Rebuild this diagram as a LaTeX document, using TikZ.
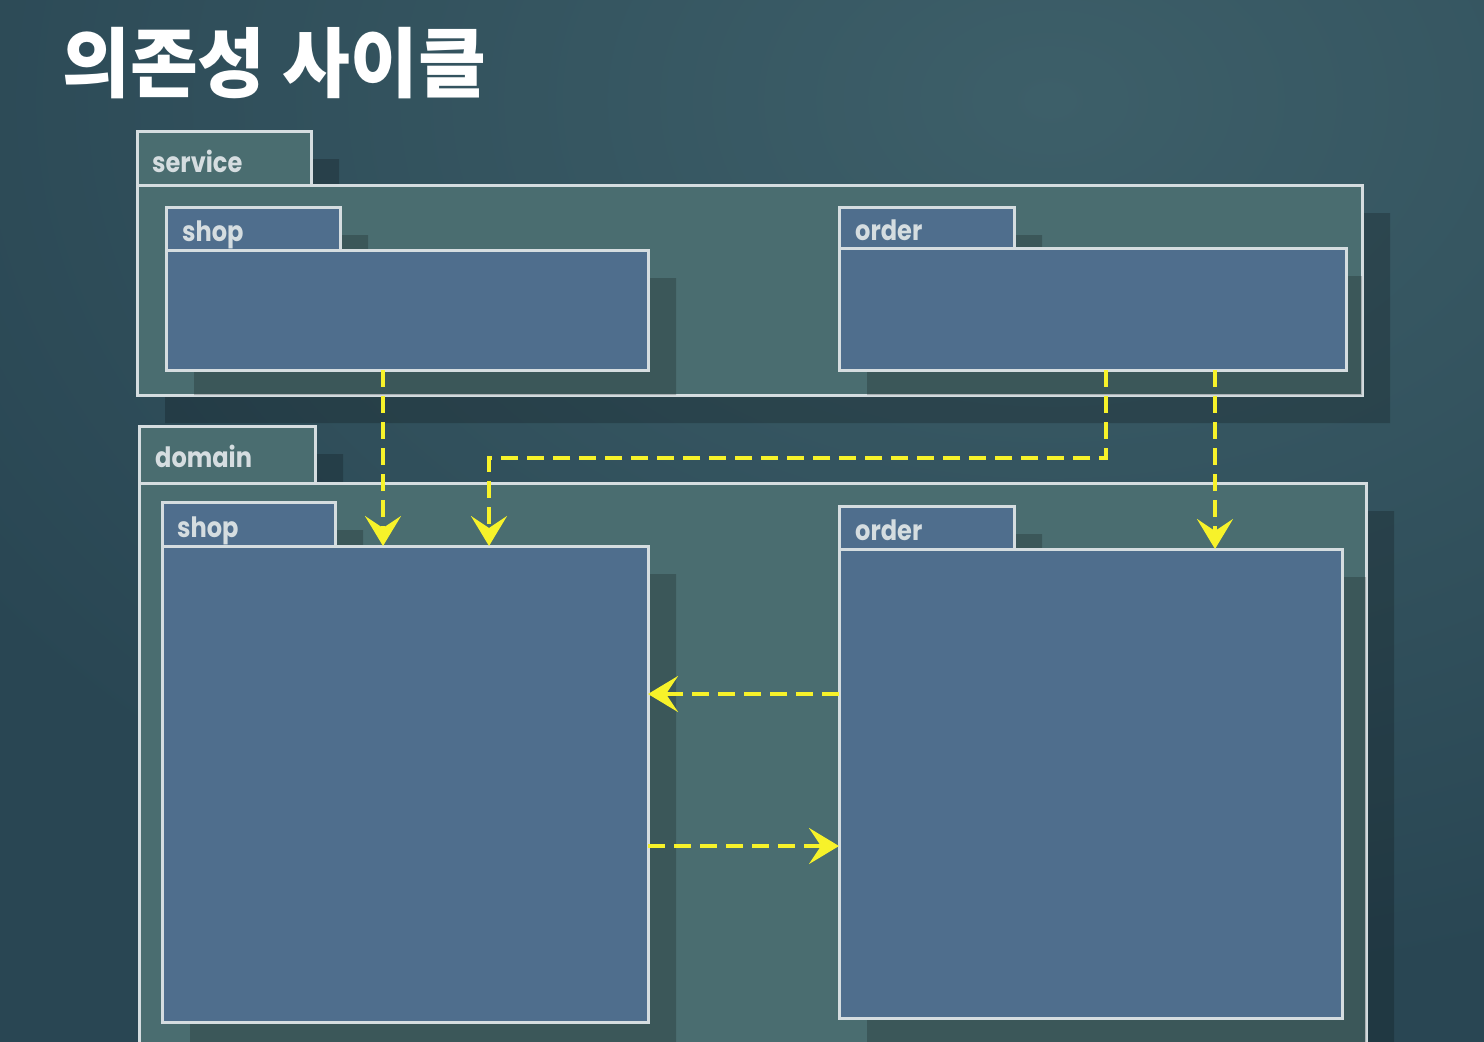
\documentclass[tikz,border=0pt]{standalone}
\usepackage{fontspec}
\usetikzlibrary{arrows.meta,calc}
\newfontfamily\cjk{Noto Sans CJK KR}[FakeStretch=0.97]
\newfontfamily\lbl{Poppins}[FakeStretch=0.86]
\definecolor{bgcol}{HTML}{294653}
\definecolor{bglight}{HTML}{3D5F69}
\definecolor{outerfill}{HTML}{4A6D70}
\definecolor{innerfill}{HTML}{4F6E8D}
\definecolor{pkgline}{HTML}{D5DDE0}
\definecolor{depcol}{HTML}{F7F22A}
\tikzset{
  pkgbase/.style={draw=pkgline, line width=3pt, anchor=north west, inner sep=0pt, outer sep=0pt},
  outerpkg/.style={pkgbase, fill=outerfill},
  innerpkg/.style={pkgbase, fill=innerfill},
  shadowbox/.style={fill=black, fill opacity=0.2, draw=none},
  lbltext/.style={anchor=base west, text=pkgline, inner sep=0pt, font=\lbl\bfseries\fontsize{28}{30}\selectfont},
  dep/.style={draw=depcol, line width=4pt, dash pattern=on 17pt off 9pt,
    -{Stealth[length=30pt, width=36pt, inset=12pt]}},
}
\begin{document}
\begin{tikzpicture}[x=1pt, y=-1pt]
\useasboundingbox (0,0) rectangle (1484,1042);
\clip (0,0) rectangle (1484,1042);
% background
\fill[bgcol] (0,0) rectangle (1484,1042);
\shade[inner color=bglight, outer color=bgcol] (1050,100) ellipse (1300 and 900);

% title
\node[anchor=base west, text=white, inner sep=0pt, font=\cjk\bfseries\fontsize{76}{80}\selectfont] (title) at (62,91) {의존성 사이클};

% ---------- outer package shadows ----------
\fill[shadowbox] (165,159) rectangle (339,213) (165,213) rectangle (1390,423);
\fill[shadowbox] (167,454) rectangle (343,511) (167,511) rectangle (1394,1060);

% ---------- service package ----------
\node[outerpkg, minimum width=174pt, minimum height=54pt] (stab) at (137,131) {};
\node[outerpkg, minimum width=1225pt, minimum height=210pt] (sbody) at (137,185) {};
\node[lbltext] (slbl) at (152,172) {service};

% inner shadows
\fill[shadowbox] (194,235) rectangle (368,278) (194,278) rectangle (676,395);
\fill[shadowbox] (867,235) rectangle (1042,276) (867,276) rectangle (1362,395);

\node[innerpkg, minimum width=174pt, minimum height=43pt] (sstab) at (166,207) {};
\node[innerpkg, minimum width=482pt, minimum height=120pt] (ssb) at (166,250) {};
\node[lbltext] (sslbl) at (182,241) {shop};

\node[innerpkg, minimum width=175pt, minimum height=41pt] (sotab) at (839,207) {};
\node[innerpkg, minimum width=507pt, minimum height=122pt] (sob) at (839,248) {};
\node[lbltext] (solbl) at (855,240) {order};

% ---------- domain package ----------
\node[outerpkg, minimum width=176pt, minimum height=57pt] (dtab) at (139,426) {};
\node[outerpkg, minimum width=1227pt, minimum height=600pt] (dbody) at (139,483) {};
\node[lbltext] (dlbl) at (155,467) {domain};

\fill[shadowbox] (190,530) rectangle (363,574) (190,574) rectangle (676,1050);
\fill[shadowbox] (867,534) rectangle (1042,577) (867,577) rectangle (1366,1046);

\node[innerpkg, minimum width=173pt, minimum height=44pt] (dstab) at (162,502) {};
\node[innerpkg, minimum width=486pt, minimum height=476pt] (dsb) at (162,546) {};
\node[lbltext] (dslbl) at (177,537) {shop};

\node[innerpkg, minimum width=175pt, minimum height=43pt] (dotab) at (839,506) {};
\node[innerpkg, minimum width=503pt, minimum height=469pt] (dob) at (839,549) {};
\node[lbltext] (dolbl) at (855,540) {order};

% ---------- dependencies ----------
\coordinate (a1) at ([xshift=217pt]ssb.south west);
\draw[dep] (a1) -- (a1 |- dsb.north);

\coordinate (a2) at ([xshift=267pt]sob.south west);
\coordinate (a2e) at ([xshift=327pt]dsb.north west);
\draw[dep] (a2) -- ++(0,88) -| (a2e);

\coordinate (a3) at ([xshift=376pt]sob.south west);
\draw[dep] (a3) -- (a3 |- dob.north);

\coordinate (a4) at ([yshift=-145pt]dob.north west);
\draw[dep] (a4) -- (a4 -| dsb.east);

\coordinate (a5) at ([yshift=-300pt]dsb.north east);
\draw[dep] (a5) -- (a5 -| dob.west);
\end{tikzpicture}
\end{document}
